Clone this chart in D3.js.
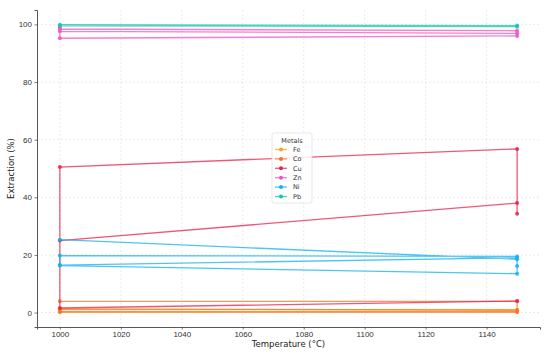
<!DOCTYPE html>
<html>
<head>
<meta charset="utf-8">
<script src="https://cdn.jsdelivr.net/npm/d3@7"></script>
<style>
  body { margin: 0; background: #fff; }
  svg { font-family: "DejaVu Sans", sans-serif; }
</style>
</head>
<body>
<script>
const width = 550;
const height = 354;
const margin = {top: 10, right: 10, bottom: 27, left: 37};

// data: [temperature, extraction] in the order the rows were plotted
const metals = ["Fe", "Co", "Cu", "Zn", "Ni", "Pb"];
const fe = [[1000, 0.3], [1150, 0.3], [1150, 1.0], [1000, 1.0]];
const co = [[1000, 3.9], [1150, 3.9], [1150, 0.8], [1000, 1.3], [1000, 0.2], [1150, 0.2]];
const cu = [[1150, 4.0], [1000, 1.6], [1000, 50.5], [1150, 56.8], [1150, 34.3], [1150, 38.0], [1000, 25.0]];
const zn = [[1000, 99.0], [1000, 95.2], [1150, 96.0], [1150, 96.9], [1000, 97.6], [1000, 98.4], [1150, 97.8]];
const ni = [[1000, 25.3], [1150, 18.5], [1150, 19.5], [1000, 19.8], [1000, 16.5], [1150, 19.0], [1150, 16.2], [1150, 13.5], [1000, 16.3]];
const pb = [[1000, 99.9], [1150, 99.6], [1150, 99.2], [1000, 99.5]];
const series = [fe, co, cu, zn, ni, pb];

const xTicks = [1000, 1020, 1040, 1060, 1080, 1100, 1120, 1140];
const yTicks = [0, 20, 40, 60, 80, 100];

const colors = ["#f5a81c", "#f8722a", "#e8204a", "#f550c4", "#12b2ef", "#10c6b2"];

const svg = d3.select("body").append("svg")
    .attr("width", width)
    .attr("height", height);

const x = d3.scaleLinear().domain([992.5, 1157.5]).range([margin.left, width - margin.right]);
const y = d3.scaleLinear().domain([-5, 105]).range([height - margin.bottom, margin.top]);

// grid
svg.append("g").selectAll("line.vg")
  .data(xTicks).enter().append("line")
    .attr("x1", d => x(d)).attr("x2", d => x(d))
    .attr("y1", margin.top).attr("y2", height - margin.bottom)
    .attr("stroke", "#dcdcdc").attr("stroke-width", 0.6)
    .attr("stroke-dasharray", "2,2");
svg.append("g").selectAll("line.hg")
  .data(yTicks).enter().append("line")
    .attr("x1", margin.left).attr("x2", width - margin.right)
    .attr("y1", d => y(d)).attr("y2", d => y(d))
    .attr("stroke", "#dcdcdc").attr("stroke-width", 0.6)
    .attr("stroke-dasharray", "2,2");

// axes
const xAxis = svg.append("g")
    .attr("transform", "translate(0," + (height - margin.bottom) + ")")
    .call(d3.axisBottom(x).tickValues(xTicks).tickFormat(d3.format("d")).tickSize(2.5).tickPadding(1.5));
const yAxis = svg.append("g")
    .attr("transform", "translate(" + margin.left + ",0)")
    .call(d3.axisLeft(y).tickValues(yTicks).tickSize(2.5).tickPadding(2.5));
[xAxis, yAxis].forEach(function(a){
  a.selectAll("text").attr("font-size", 8).attr("fill", "#333");
  a.selectAll("line").attr("stroke", "#444").attr("stroke-width", 0.7);
  a.select(".domain").attr("stroke", "#444").attr("stroke-width", 0.9);
});

svg.append("text")
    .attr("x", (margin.left + width - margin.right) / 2)
    .attr("y", height - 7)
    .attr("text-anchor", "middle")
    .attr("font-size", 8.5)
    .attr("fill", "#222")
    .text("Temperature (°C)");

svg.append("text")
    .attr("transform", "translate(14," + ((margin.top + height - margin.bottom) / 2) + ") rotate(-90)")
    .attr("text-anchor", "middle")
    .attr("font-size", 8.5)
    .attr("fill", "#222")
    .text("Extraction (%)");

// lines + markers
const line = d3.line().x(d => x(d[0])).y(d => y(d[1]));
series.forEach(function(s, i){
  const g = svg.append("g").attr("class", "metal-" + metals[i]);
  g.append("path")
    .attr("d", line(s))
    .attr("fill", "none")
    .attr("stroke", colors[i])
    .attr("stroke-width", 1.3)
    .attr("stroke-opacity", 0.75);
  g.selectAll("circle")
    .data(s).enter().append("circle")
      .attr("cx", d => x(d[0]))
      .attr("cy", d => y(d[1]))
      .attr("r", 2)
      .attr("fill", colors[i])
      .attr("fill-opacity", 0.85);
});

// legend
const lg = svg.append("g").attr("transform", "translate(272,133)");
lg.append("rect")
    .attr("width", 40).attr("height", 70)
    .attr("rx", 2)
    .attr("fill", "#fff").attr("fill-opacity", 0.85)
    .attr("stroke", "#ddd").attr("stroke-width", 0.7);
lg.append("text")
    .attr("x", 20).attr("y", 9.5)
    .attr("text-anchor", "middle")
    .attr("font-size", 6.5).attr("fill", "#333")
    .text("Metals");
const items = lg.selectAll("g.item")
  .data(metals).enter().append("g")
    .attr("transform", (d, i) => "translate(0," + (16.5 + i * 9.4) + ")");
items.append("line")
    .attr("x1", 3).attr("x2", 15)
    .attr("stroke", (d, i) => colors[i])
    .attr("stroke-width", 1.3).attr("stroke-opacity", 0.75);
items.append("circle")
    .attr("cx", 9).attr("r", 2)
    .attr("fill", (d, i) => colors[i]);
items.append("text")
    .attr("x", 21).attr("y", 2.3)
    .attr("font-size", 6.5).attr("fill", "#333")
    .text(d => d);
</script>
</body>
</html>
